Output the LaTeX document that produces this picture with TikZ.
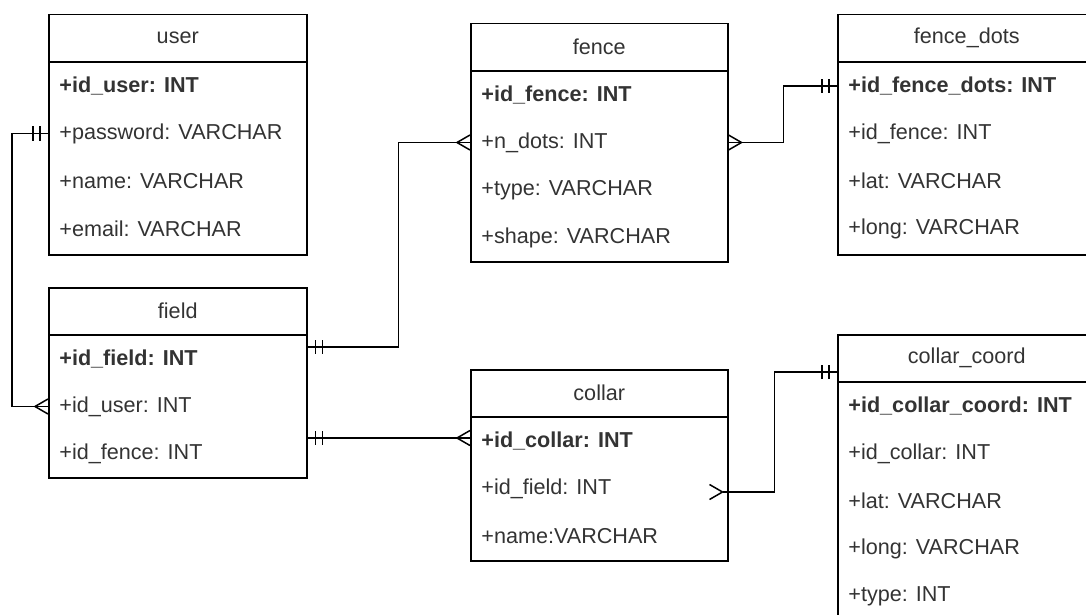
\documentclass[tikz,border=0pt]{standalone}
\usepackage{fontspec}
\setmainfont{Liberation Sans}
\usetikzlibrary{positioning, calc}
\tikzset{
    erbox/.style={draw, line width=0.75pt, anchor=north west, inner sep=0pt, minimum width=129pt},
    ertitle/.style={text=black!80, font=\fontsize{10.8}{13}\selectfont, inner sep=0pt},
    erattr/.style={text=black!80, font=\fontsize{10.8}{13}\selectfont, anchor=west, inner sep=0pt},
    erlink/.style={line width=0.75pt},
    onemark/.pic={\draw[erlink] (8,-7) -- (8,7) (15,-7) -- (15,7);},
    manymark/.pic={\draw[erlink] (0,-7.5) -- (13,0) -- (0,7.5);}
}

\begin{document}
\begin{tikzpicture}[x=0.5pt, y=-0.5pt]
    \useasboundingbox (0,0) rectangle (1086,615);
    \clip (0,0) rectangle (1086,615);

    % user
    \node [erbox, minimum height=120pt] (user) at (48,14) {};
    \node [ertitle] (user-t) at ([yshift=-12pt]user.north) {user};
    \draw [erlink] ([yshift=-24pt]user.north west) -- ([yshift=-24pt]user.north east);
    \foreach \txt [count=\i] in {\textbf{+id\_user: INT}, +password: VARCHAR, +name: VARCHAR, +email: VARCHAR}
        \node [erattr] (user-\i) at ([xshift=5.5pt, yshift={-36pt-(\i-1)*23.75pt}]user.north west) {\txt};

    % field
    \node [erbox, minimum height=95pt] (field) at (48,287) {};
    \node [ertitle] (field-t) at ([yshift=-12pt]field.north) {field};
    \draw [erlink] ([yshift=-24pt]field.north west) -- ([yshift=-24pt]field.north east);
    \foreach \txt [count=\i] in {\textbf{+id\_field: INT}, +id\_user: INT, +id\_fence: INT}
        \node [erattr] (field-\i) at ([xshift=5.5pt, yshift={-36pt-(\i-1)*23.75pt}]field.north west) {\txt};

    % fence
    \node [erbox, minimum width=128.5pt, minimum height=119pt] (fence) at (470,23) {};
    \node [ertitle] (fence-t) at ([yshift=-12pt]fence.north) {fence};
    \draw [erlink] ([yshift=-24pt]fence.north west) -- ([yshift=-24pt]fence.north east);
    \foreach \txt [count=\i] in {\textbf{+id\_fence: INT}, +n\_dots: INT, +type: VARCHAR, +shape: VARCHAR}
        \node [erattr] (fence-\i) at ([xshift=5.5pt, yshift={-36pt-(\i-1)*23.75pt}]fence.north west) {\txt};

    % collar
    \node [erbox, minimum width=128.5pt, minimum height=95.5pt] (collar) at (470,369) {};
    \node [ertitle] (collar-t) at ([yshift=-12pt]collar.north) {collar};
    \draw [erlink] ([yshift=-24pt]collar.north west) -- ([yshift=-24pt]collar.north east);
    \foreach \txt [count=\i] in {\textbf{+id\_collar: INT}, +id\_field: INT, +name:VARCHAR}
        \node [erattr] (collar-\i) at ([xshift=5.5pt, yshift={-36pt-(\i-1)*23.75pt}]collar.north west) {\txt};

    % fence_dots
    \node [erbox, minimum height=120pt] (fencedots) at (837,14) {};
    \node [ertitle] (fencedots-t) at ([yshift=-12pt]fencedots.north) {fence\_dots};
    \draw [erlink] ([yshift=-24pt]fencedots.north west) -- ([yshift=-24pt]fencedots.north east);
    \foreach \txt [count=\i] in {\textbf{+id\_fence\_dots: INT}, +id\_fence: INT, +lat: VARCHAR, +long: VARCHAR}
        \node [erattr] (fencedots-\i) at ([xshift=5.5pt, yshift={-36pt-(\i-1)*23.75pt}]fencedots.north west) {\txt};

    % collar_coord
    \node [erbox, minimum height=155pt] (coord) at (837,334) {};
    \node [ertitle] (coord-t) at ([yshift=-12pt]coord.north) {collar\_coord};
    \draw [erlink] ([yshift=-24pt]coord.north west) -- ([yshift=-24pt]coord.north east);
    \foreach \txt [count=\i] in {\textbf{+id\_collar\_coord: INT}, +id\_collar: INT, +lat: VARCHAR, +long: VARCHAR, +type: INT}
        \node [erattr] (coord-\i) at ([xshift=5.5pt, yshift={-36pt-(\i-1)*23.75pt}]coord.north west) {\txt};

    % link ends
    \coordinate (fieldhi) at ([yshift=-30pt]field.north east);
    \coordinate (fieldlo) at ([yshift=-75.5pt]field.north east);
    \coordinate (collarend) at ([yshift=-61.5pt]collar.north east);
    \coordinate (collartip) at ([xshift=-3pt]collarend);
    \coordinate (coordend) at ([yshift=-19pt]coord.north west);

    % user - field
    \draw [erlink] (user.west |- user-2) -- ++(-36,0) |- (field.west |- field-2);
    \pic [rotate=180] at (user.west |- user-2) {onemark};
    \pic [rotate=180] at (field.west |- field-2) {manymark};

    % field - fence
    \draw [erlink] (fieldhi) -- ++(91,0) |- (fence.west |- fence-2);
    \pic at (fieldhi) {onemark};
    \pic [rotate=180] at (fence.west |- fence-2) {manymark};

    % fence - fence_dots
    \draw [erlink] (fence.east |- fence-2) -- ++(55,0) |- (fencedots.west |- fencedots-1);
    \pic at (fence.east |- fence-2) {manymark};
    \pic [rotate=180] at (fencedots.west |- fencedots-1) {onemark};

    % field - collar
    \draw [erlink] (fieldlo) -- (collar.west |- fieldlo);
    \pic at (fieldlo) {onemark};
    \pic [rotate=180] at (collar.west |- fieldlo) {manymark};

    % collar - collar_coord
    \draw [erlink] (collartip) -- ++(52,0) |- (coordend);
    \pic at ([xshift=-9.5pt]collarend) {manymark};
    \pic [rotate=180] at (coordend) {onemark};
\end{tikzpicture}
\end{document}
